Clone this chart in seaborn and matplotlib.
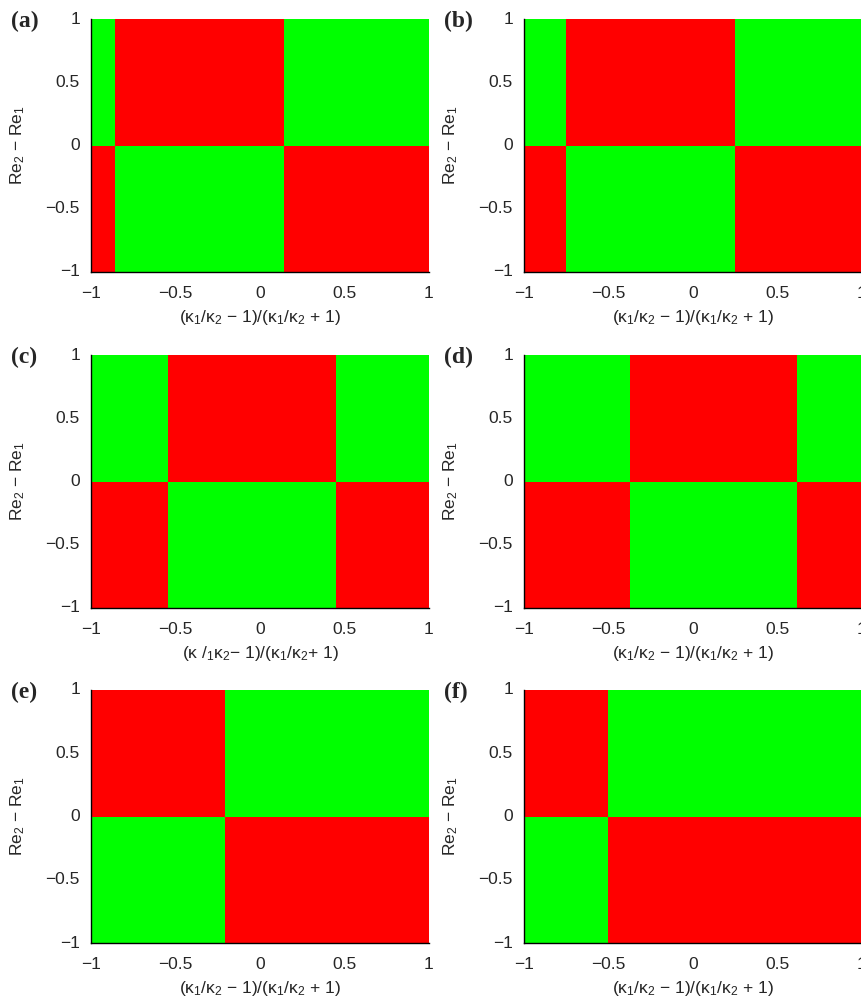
import numpy as np
import matplotlib
matplotlib.use("Agg")
import matplotlib.pyplot as plt
import seaborn as sns
from matplotlib.colors import ListedColormap

# region boundaries along x (y boundary is at 0 everywhere)
panel_labels = ["(a)", "(b)", "(c)", "(d)", "(e)", "(f)"]
bounds_a = [-0.86, 0.14]
bounds_b = [-0.75, 0.25]
bounds_c = [-0.545, 0.45]
bounds_d = [-0.37, 0.615]
bounds_e = [-0.205]
bounds_f = [-0.505]
all_bounds = [bounds_a, bounds_b, bounds_c, bounds_d, bounds_e, bounds_f]
# colour of the top-left region: 1 = green, 0 = red
top_left = [1, 1, 1, 1, 0, 0]

tick_vals = [-1, -0.5, 0, 0.5, 1]
tick_text = ["\u22121", "\u22120.5", "0", "0.5", "1"]

xlab = r"($\kappa_1$/$\kappa_2$ $-$ 1)/($\kappa_1$/$\kappa_2$ + 1)"
xlab_c = r"($\kappa$ /$_1$$\kappa_2$$-$ 1)/($\kappa_1$/$\kappa_2$+ 1)"
ylab = r"Re$_2$ $-$ Re$_1$"

sns.set_style("white")
plt.rcParams["font.family"] = ["Liberation Sans", "DejaVu Sans"]
plt.rcParams["mathtext.fontset"] = "custom"
plt.rcParams["mathtext.rm"] = "Liberation Sans"
plt.rcParams["mathtext.it"] = "Liberation Sans"
plt.rcParams["mathtext.default"] = "regular"

W, H = 862, 1007
fig = plt.figure(figsize=(W / 100, H / 100), dpi=100)

N = 1000
centers = -1 + (2 * np.arange(N) + 1) / N
cmap = ListedColormap(["#ff0000", "#00ff00"])

lefts = [91, 524]
tops = [19, 355, 690]
aw, ah = 338, 253

for i in range(6):
    r, c = divmod(i, 2)
    x0, y0 = lefts[c], tops[r]
    ax = fig.add_axes([x0 / W, 1 - (y0 + ah) / H, aw / W, ah / H])

    region = np.searchsorted(all_bounds[i], centers)
    top = (top_left[i] + region) % 2
    grid = np.vstack([top, 1 - top])
    sns.heatmap(grid, cmap=cmap, vmin=0, vmax=1, cbar=False, ax=ax)

    ax.set_xticks([(v + 1) / 2 * N for v in tick_vals])
    ax.set_xticklabels(tick_text, rotation=0)
    ax.set_yticks([1 - v for v in tick_vals])
    ax.set_yticklabels(tick_text, rotation=0)
    ax.tick_params(length=0, labelsize=12.5, pad=8)
    ax.tick_params(axis="x", pad=10)
    for s in ["left", "bottom"]:
        ax.spines[s].set_visible(True)
        ax.spines[s].set_color("black")
        ax.spines[s].set_linewidth(1.0)
    ax.set_xlabel(xlab_c if i == 2 else xlab, fontsize=12.5, labelpad=5)
    ax.set_ylabel(ylab, fontsize=12.5, labelpad=13)

    fig.text((x0 - 80) / W, 1 - (y0 + 2) / H, panel_labels[i],
             family="Liberation Serif", weight="bold", fontsize=17,
             va="center", ha="left")

fig.savefig("out.png", dpi=100)
